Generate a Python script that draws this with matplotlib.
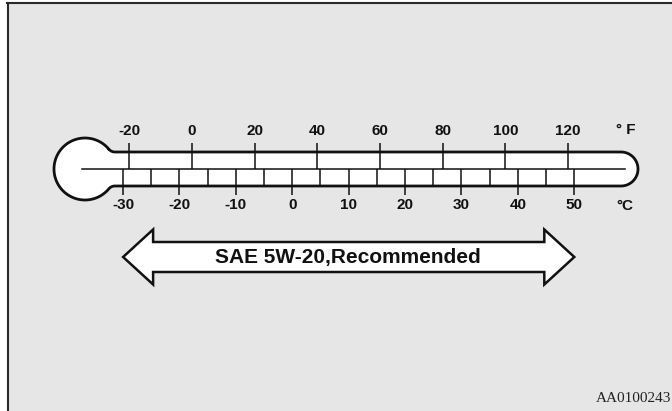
import matplotlib
matplotlib.use("Agg")
import matplotlib.pyplot as plt
import numpy as np
from matplotlib.path import Path
from matplotlib.patches import PathPatch, Polygon

# scale values
fahrenheit_ticks = [-20, 0, 20, 40, 60, 80, 100, 120]
celsius_ticks = [-30, -20, -10, 0, 10, 20, 30, 40, 50]
celsius_minor = [-25, -15, -5, 5, 15, 25, 35, 45]
oil_range = (-30, 50)   # degC covered by the arrow
oil_label = "SAE 5W-20,Recommended"
code_label = "AA0100243"

W, H = 672, 411
X0, SX = 292.3, 5.64    # pixel of 0 degC, pixels per degC


def px(x):
    # pixel column -> degC
    return (np.asarray(x, dtype=float) - X0) / SX


def f_to_c(f):
    return (np.asarray(f, dtype=float) - 32) * 5 / 9


def arc(cx, cy, r, a0, a1, n=30):
    t = np.linspace(a0, a1, n)
    return list(zip(cx + r * np.cos(t), cy + r * np.sin(t)))


fig = plt.figure(figsize=(W / 100, H / 100), dpi=100)
fig.patch.set_facecolor("white")
ax = fig.add_axes([0, 0, 1, 1])
ax.set_xlim(px(0), px(W))
ax.set_ylim(H, 0)
ax.axis("off")

# panel background and frame
ax.add_patch(Polygon([[px(7), 3], [px(W + 5), 3], [px(W + 5), H + 5], [px(7), H + 5]],
                     closed=True, facecolor="#e6e6e7", edgecolor="none", zorder=0))
ax.plot([px(7.5), px(7.5)], [3, H], color="#2a2a2a", lw=1.5, zorder=1)
ax.plot([px(7), px(W)], [3, 3], color="#2a2a2a", lw=1.5, zorder=1)

# thermometer outline (pixel geometry, y down)
yc, half = 169, 17
bx, br = 85, 31          # bulb centre / radius
rf = 8                   # neck fillet radius
fdx = np.sqrt((br + rf) ** 2 - (half + rf) ** 2)
fx = bx + fdx
xr = 621                 # start of right rounded end
a_b = np.arctan2(half + rf, fdx)          # bulb angle of lower tangent point
a_f = np.arctan2(half + rf, bx - fx)      # fillet angle towards bulb

pts = [(fx, yc - half), (xr, yc - half)]
pts += arc(xr, yc, half, -np.pi / 2, np.pi / 2, 40)
pts.append((fx, yc + half))
pts += arc(fx, yc + half + rf, rf, -np.pi / 2, -a_f, 15)
pts += arc(bx, yc, br, a_b, 2 * np.pi - a_b, 80)
pts += arc(fx, yc - half - rf, rf, a_f, np.pi / 2, 15)
pts = np.array(pts)
verts = np.column_stack([px(pts[:, 0]), pts[:, 1]])
ax.add_patch(PathPatch(Path(verts, closed=False), facecolor="white",
                       edgecolor="#111111", lw=2.0, zorder=2, joinstyle="round"))

# centre line
ax.plot([px(82), px(625)], [yc, yc], color="#111111", lw=1.1, zorder=3)

lbl = dict(ha="center", va="center", fontsize=11, fontweight="bold",
           family="Liberation Sans", color="#111111")

# fahrenheit ticks (top half)
fc = f_to_c(fahrenheit_ticks)
ax.vlines(fc, 143, yc, color="#111111", lw=1.1, zorder=3)
for f, c in zip(fahrenheit_ticks, fc):
    ax.text(c, 131, str(f), **lbl)
ax.text(px(626), 130, "° F", **lbl)

# celsius ticks (bottom half)
ax.vlines(celsius_ticks, yc, 195, color="#111111", lw=1.1, zorder=3)
ax.vlines(celsius_minor, yc, yc + half, color="#111111", lw=1.1, zorder=3)
for c in celsius_ticks:
    ax.text(c, 205, str(c), **lbl)
ax.text(px(625), 206, "°C", **lbl)

# double arrow for the recommended range
ay, sh, hh, hl = 257, 15, 27.5, 30 / SX
lo, hi = oil_range
arrow = [[lo, ay], [lo + hl, ay - hh], [lo + hl, ay - sh], [hi - hl, ay - sh],
         [hi - hl, ay - hh], [hi, ay], [hi - hl, ay + hh], [hi - hl, ay + sh],
         [lo + hl, ay + sh], [lo + hl, ay + hh]]
ax.add_patch(Polygon(arrow, closed=True, facecolor="white", edgecolor="#111111",
                     lw=1.8, joinstyle="miter", zorder=2))
ax.text((lo + hi) / 2 - 0.2, ay, oil_label, ha="center", va="center",
        fontsize=15, fontweight="bold", family="Liberation Sans", color="#111111", zorder=4)

# figure code
ax.text(px(596), 398, code_label, ha="left", va="center", fontsize=11,
        family="Liberation Serif", color="#222222")

fig.savefig("out.png", dpi=100, facecolor=fig.get_facecolor())
